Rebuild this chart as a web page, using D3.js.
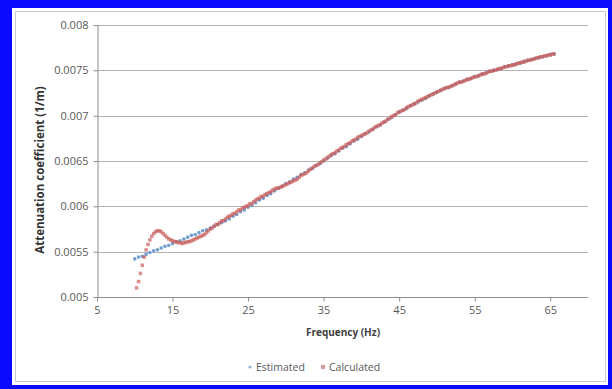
<!DOCTYPE html>
<html>
<head>
<meta charset="utf-8">
<script src="https://cdn.jsdelivr.net/npm/d3@7"></script>
<style>
  body { margin: 0; background: #fff; }
  text { font-family: "Open Sans", sans-serif; }
</style>
</head>
<body>
<svg id="chart" width="612" height="389"></svg>
<script>
// frequency grid of each series (Hz)
var estStart = 10, estStep = 0.5;
var calcStart = 10.25, calcStep = 0.25;

// Estimated attenuation coefficient (1/m), 10 -> 65.5 Hz
var estimated = [
  0.00542, 0.00544, 0.00545, 0.00547, 0.00549, 0.00551, 0.00552, 0.00554, 0.00556, 0.00557,
  0.00559, 0.00561, 0.00562, 0.00564, 0.00566, 0.00568, 0.00569, 0.00571, 0.00573, 0.00574,
  0.00576, 0.00578, 0.00580, 0.00582, 0.00584, 0.00586, 0.00589, 0.00591, 0.00594, 0.00596,
  0.00599, 0.00601, 0.00604, 0.00607, 0.00609, 0.00612, 0.00614, 0.00617, 0.00620, 0.00622,
  0.00625, 0.00627, 0.00630, 0.00632, 0.00635, 0.00637, 0.00640, 0.00642, 0.00645, 0.00647,
  0.00650, 0.00653, 0.00656, 0.00658, 0.00661, 0.00664, 0.00666, 0.00669, 0.00672, 0.00674,
  0.00677, 0.00680, 0.00682, 0.00685, 0.00688, 0.00690, 0.00693, 0.00696, 0.00698, 0.00701,
  0.00704, 0.00706, 0.00708, 0.00711, 0.00713, 0.00715, 0.00717, 0.00719, 0.00722, 0.00724,
  0.00726, 0.00728, 0.00730, 0.00731, 0.00733, 0.00735, 0.00737, 0.00738, 0.00740, 0.00741,
  0.00743, 0.00744, 0.00746, 0.00747, 0.00749, 0.00750, 0.00751, 0.00752, 0.00754, 0.00755,
  0.00756, 0.00757, 0.00758, 0.00760, 0.00761, 0.00762, 0.00763, 0.00764, 0.00765, 0.00766,
  0.00767, 0.00768
];

// Calculated attenuation coefficient (1/m), 10.25 -> 65.5 Hz
var calculated = [
  0.00510, 0.00517, 0.00526, 0.00535, 0.00544, 0.00552, 0.00558, 0.00563,
  0.00567, 0.00570, 0.00572, 0.00573, 0.00573, 0.00572, 0.00570, 0.00568,
  0.00566, 0.00564, 0.00563, 0.00562, 0.00561, 0.00561, 0.00560, 0.00560,
  0.00559, 0.00560, 0.00560, 0.00561, 0.00561, 0.00562, 0.00563, 0.00564,
  0.00565, 0.00566, 0.00567, 0.00568, 0.00569, 0.00571, 0.00573, 0.00575,
  0.00576, 0.00578, 0.00580, 0.00580, 0.00582, 0.00584, 0.00584, 0.00586,
  0.00588, 0.00589, 0.00590, 0.00592, 0.00592, 0.00594, 0.00596, 0.00596,
  0.00598, 0.00599, 0.00600, 0.00601, 0.00603, 0.00603, 0.00605, 0.00607,
  0.00608, 0.00609, 0.00611, 0.00611, 0.00613, 0.00614, 0.00615, 0.00616,
  0.00618, 0.00619, 0.00620, 0.00620, 0.00621, 0.00622, 0.00623, 0.00624,
  0.00625, 0.00626, 0.00627, 0.00628, 0.00629, 0.00630, 0.00632, 0.00634,
  0.00635, 0.00636, 0.00637, 0.00639, 0.00641, 0.00642, 0.00644, 0.00645,
  0.00646, 0.00648, 0.00649, 0.00651, 0.00652, 0.00654, 0.00655, 0.00657,
  0.00658, 0.00659, 0.00661, 0.00662, 0.00664, 0.00665, 0.00666, 0.00668,
  0.00669, 0.00670, 0.00672, 0.00673, 0.00674, 0.00676, 0.00677, 0.00678,
  0.00679, 0.00680, 0.00681, 0.00683, 0.00684, 0.00685, 0.00687, 0.00688,
  0.00689, 0.00690, 0.00692, 0.00693, 0.00694, 0.00696, 0.00697, 0.00699,
  0.00700, 0.00701, 0.00703, 0.00704, 0.00705, 0.00706, 0.00707, 0.00709,
  0.00710, 0.00711, 0.00712, 0.00713, 0.00714, 0.00716, 0.00717, 0.00718,
  0.00719, 0.00720, 0.00721, 0.00722, 0.00723, 0.00724, 0.00725, 0.00726,
  0.00727, 0.00728, 0.00729, 0.00730, 0.00731, 0.00731, 0.00732, 0.00733,
  0.00734, 0.00735, 0.00736, 0.00737, 0.00737, 0.00738, 0.00739, 0.00740,
  0.00740, 0.00741, 0.00742, 0.00743, 0.00743, 0.00744, 0.00745, 0.00746,
  0.00746, 0.00747, 0.00748, 0.00749, 0.00749, 0.00750, 0.00750, 0.00751,
  0.00752, 0.00752, 0.00753, 0.00754, 0.00754, 0.00755, 0.00755, 0.00756,
  0.00756, 0.00757, 0.00758, 0.00758, 0.00759, 0.00759, 0.00760, 0.00761,
  0.00761, 0.00762, 0.00762, 0.00763, 0.00764, 0.00764, 0.00765, 0.00765,
  0.00766, 0.00766, 0.00767, 0.00767, 0.00768, 0.00768
];

var xTicks = [5, 15, 25, 35, 45, 55, 65];
var yTicks = [0.005, 0.0055, 0.006, 0.0065, 0.007, 0.0075, 0.008];
var seriesNames = ["Estimated", "Calculated"];

var svg = d3.select("#chart"),
  width = +svg.attr("width"),
  height = +svg.attr("height");

// blue frame + chart area
svg.append("rect").attr("width", width).attr("height", height).attr("fill", "#0a0aff");
svg.append("rect").attr("x", 12).attr("y", 8).attr("width", 596).attr("height", 377).attr("fill", "#fff");
svg.append("rect").attr("x", 15.5).attr("y", 11.5).attr("width", 590).attr("height", 370)
  .attr("fill", "none").attr("stroke", "#c8c8c8");

var x = d3.scaleLinear().domain([5, 70]).range([97, 588]);
var y = d3.scaleLinear().domain([0.005, 0.008]).range([297, 25]);

// gridlines
svg.append("g")
  .selectAll("line")
  .data(yTicks.slice(1))
  .enter().append("line")
    .attr("x1", x(5)).attr("x2", x(70))
    .attr("y1", function(d) { return Math.round(y(d)) + 0.5; })
    .attr("y2", function(d) { return Math.round(y(d)) + 0.5; })
    .attr("stroke", "#b3b3b3");

var xAxis = svg.append("g")
  .attr("transform", "translate(0," + (Math.round(y(0.005)) + 0.5) + ")")
  .call(d3.axisBottom(x).tickValues(xTicks).tickSize(4).tickPadding(5).tickFormat(d3.format("d")));

var yAxis = svg.append("g")
  .attr("transform", "translate(" + (Math.round(x(5)) + 0.5) + ",0)")
  .call(d3.axisLeft(y).tickValues(yTicks).tickSize(4).tickPadding(5).tickFormat(function(d) { return +d.toFixed(4) + ""; }));

[xAxis, yAxis].forEach(function(a) {
  a.select(".domain").attr("stroke", "#8c8c8c");
  a.selectAll(".tick line").attr("stroke", "#8c8c8c");
  a.selectAll(".tick text").attr("fill", "#595959").style("font-size", "11px");
});
xAxis.select(".domain").attr("d", "M" + x(5) + ",0H" + x(70));

// series
var estData = estimated.map(function(v, i) { return { f: estStart + i * estStep, v: v }; });
var calcData = calculated.map(function(v, i) { return { f: calcStart + i * calcStep, v: v }; });

svg.append("g")
  .selectAll("circle")
  .data(estData)
  .enter().append("circle")
    .attr("cx", function(d) { return x(d.f); })
    .attr("cy", function(d) { return y(d.v); })
    .attr("r", 1.8)
    .attr("fill", "#6f9fd3");

svg.append("g")
  .selectAll("rect")
  .data(calcData)
  .enter().append("rect")
    .attr("x", function(d) { return x(d.f) - 1.75; })
    .attr("y", function(d) { return y(d.v) - 1.75; })
    .attr("width", 3.5).attr("height", 3.5)
    .attr("fill", "#c95f5c")
    .attr("fill-opacity", 0.7);

// axis titles
svg.append("text")
  .attr("x", 343).attr("y", 336)
  .attr("text-anchor", "middle")
  .attr("font-size", "10px").attr("font-weight", "bold").attr("fill", "#404040")
  .text("Frequency (Hz)");

svg.append("text")
  .attr("transform", "translate(44,170) rotate(-90)")
  .attr("text-anchor", "middle")
  .attr("font-size", "11.5px").attr("font-weight", "bold").attr("fill", "#333")
  .text("Attenuation coefficient  (1/m)");

// legend
var legend = svg.append("g").attr("transform", "translate(250,367)");
var item = legend.selectAll("g")
  .data(seriesNames)
  .enter().append("g")
    .attr("transform", function(d, i) { return "translate(" + (i * 73) + ",0)"; });
item.filter(function(d, i) { return i === 0; }).append("circle")
  .attr("r", 1.6).attr("fill", "#8fb0d6");
item.filter(function(d, i) { return i === 1; }).append("rect")
  .attr("x", -2).attr("y", -2).attr("width", 4).attr("height", 4).attr("fill", "#d49a98");
item.append("text")
  .attr("x", 6).attr("dy", "0.35em")
  .attr("font-size", "10.5px").attr("fill", "#595959")
  .text(function(d) { return d; });
</script>
</body>
</html>
